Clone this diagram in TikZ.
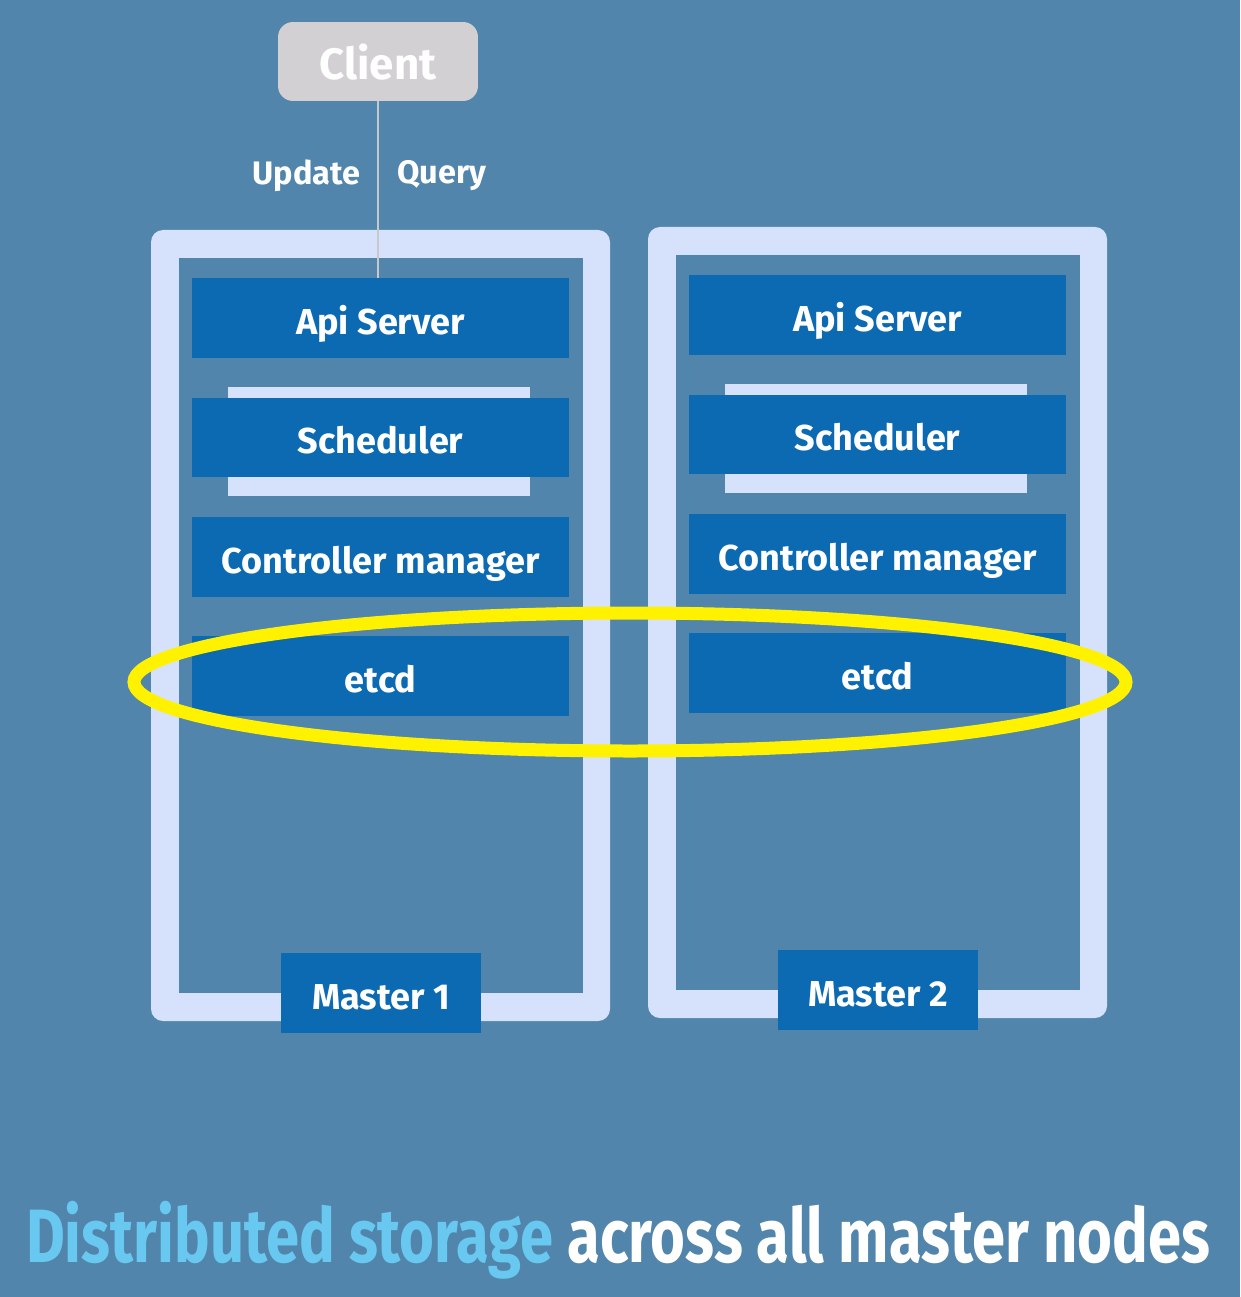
\documentclass[tikz,border=0pt]{standalone}
\usepackage{fontspec}
\setmainfont{Fira Sans}
\newfontfamily\capfont[FakeStretch=0.79]{Fira Sans}

\definecolor{bgblue}{RGB}{81,133,171}
\definecolor{framecol}{RGB}{214,226,252}
\definecolor{boxblue}{RGB}{11,106,178}
\definecolor{clientgray}{RGB}{211,208,211}
\definecolor{linkgray}{RGB}{200,200,204}
\definecolor{capcyan}{RGB}{104,200,240}
\definecolor{ringyellow}{RGB}{255,242,0}

\begin{document}
\begin{tikzpicture}[x=0.02cm,y=-0.02cm,
    comp/.style={fill=boxblue,text=white,inner sep=0pt,text height=18.5pt,text depth=0pt,minimum width=7.54cm,minimum height=1.6cm,font=\fontsize{20.5}{24}\selectfont\bfseries},
    linkline/.style={linkgray,line width=1.7pt},
    linktext/.style={text=white,inner sep=0pt,font=\fontsize{18.5}{22}\selectfont\bfseries},
    ring/.style={ringyellow,line width=0.26cm}]

\useasboundingbox (0,0) rectangle (1240,1297);
\fill[bgblue] (0,0) rectangle (1240,1297);

\node[fill=clientgray,rounded corners=0.3cm,text=white,text depth=0pt,minimum width=4cm,minimum height=1.58cm,font=\fontsize{25}{28}\selectfont\bfseries] (client) at (378,61.5) {Client};

% two masters, same layout
\foreach \i/\dx/\dy in {1/0/0,2/497/-3}{
  \begin{scope}[shift={(\dx,\dy)}]
    \fill[framecol,rounded corners=0.24cm] (151,230) rectangle (610,1021);
    \fill[bgblue] (179,258) rectangle (583,993);
    \fill[framecol] (228,387) rectangle (530,496);% bar behind scheduler
    \node[comp] (api\i) at (380.5,318) {Api Server};
    \node[comp] (sched\i) at (380.5,437.5) {Scheduler};
    \node[comp] (ctrl\i) at (380.5,557) {Controller manager};
    \node[comp] (etcd\i) at (380.5,676) {etcd};
    \node[comp,minimum width=4cm] (master\i) at (381,993) {Master \i};
  \end{scope}
}

\draw[linkline] (client.south) -- (client.south |- api1.north)
  node[linktext,pos=0.42,left=0.32cm] (update) {Update}
  node[linktext,pos=0.42,right=0.36cm] (query) {Query};

\draw[ring] (630,682) ellipse [x radius=496,y radius=69];

\node[anchor=base,text=white,font=\fontsize{43}{50}\selectfont\capfont\bfseries] (caption) at (618,1262) {\textcolor{capcyan}{Distributed storage} across all master nodes};
\end{tikzpicture}
\end{document}
